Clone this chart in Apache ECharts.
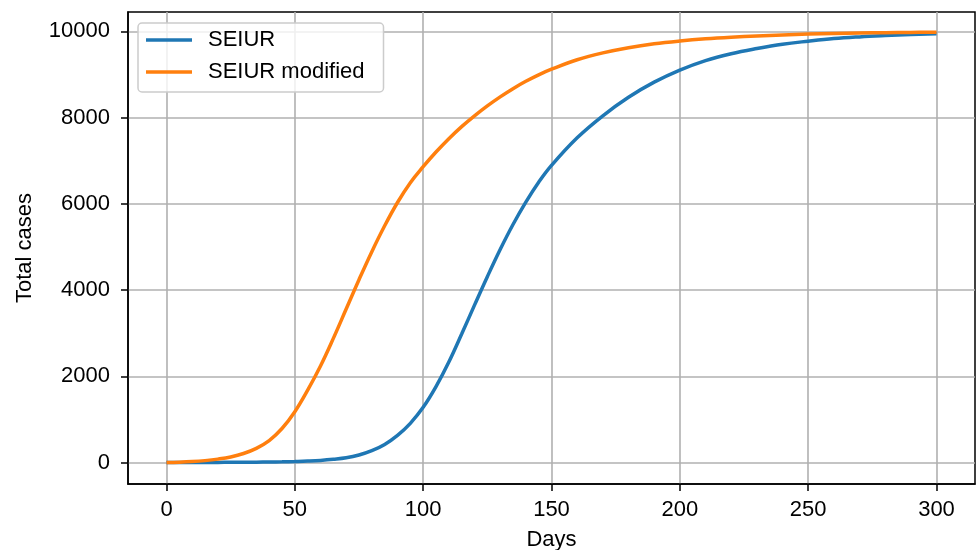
<!DOCTYPE html>
<html>
<head>
<meta charset="utf-8">
<script src="https://cdn.jsdelivr.net/npm/echarts@6/dist/echarts.min.js"></script>
<style>
  html, body { margin: 0; padding: 0; background: #fff; }
  #main { width: 977px; height: 550px; }
</style>
</head>
<body>
<div id="main"></div>
<script>
// days
var days = [0, 5, 10, 15, 20, 25, 30, 35, 40, 45, 50, 55, 60, 65, 70, 75, 80, 85, 90, 95,
  100, 105, 110, 115, 120, 125, 130, 135, 140, 145, 150,
  160, 170, 180, 190, 200, 210, 220, 230, 240, 250, 260, 270, 280, 290, 300];

// SEIUR (blue)
var seiur = [0, 1, 2, 3, 4, 5, 7, 9, 12, 17, 25, 35, 50, 75, 110, 175, 275, 420, 630, 910,
  1280, 1760, 2330, 2980, 3650, 4310, 4940, 5520, 6040, 6500, 6890,
  7530, 8040, 8470, 8820, 9100, 9320, 9480, 9600, 9700, 9770, 9830, 9870, 9900, 9925, 9945];

// SEIUR modified (orange)
var seiurModified = [0, 8, 22, 45, 80, 130, 210, 330, 510, 790, 1180, 1680, 2240, 2880, 3560, 4240, 4890, 5490, 6030, 6490,
  6860, 7200, 7510, 7790, 8040, 8270, 8480, 8670, 8840, 8990, 9120,
  9340, 9500, 9620, 9710, 9775, 9825, 9862, 9890, 9915, 9935, 9950, 9960, 9968, 9974, 9978];

var xTicks = [0, 50, 100, 150, 200, 250, 300];
var yTicks = [0, 2000, 4000, 6000, 8000, 10000];

function pairs(xs, ys) {
  var out = [];
  for (var i = 0; i < xs.length; i++) out.push([xs[i], ys[i]]);
  return out;
}

var font = '"Liberation Sans", Arial, sans-serif';
var fs = 22;
var gridColor = '#b0b0b0';

var myChart = echarts.init(document.getElementById('main'));
var option = {
  backgroundColor: '#fff',
  animation: false,
  textStyle: { fontFamily: font },
  grid: {
    left: 128, right: 2, top: 12, bottom: 66,
    show: true, borderColor: '#000', borderWidth: 1.5,
    outerBoundsMode: 'none'
  },
  legend: {
    orient: 'vertical',
    left: 138, top: 23,
    padding: [6, 19, 9, 8],
    backgroundColor: 'rgba(255,255,255,0.8)',
    borderColor: '#cccccc', borderWidth: 1.5, borderRadius: 4,
    icon: 'rect',
    itemWidth: 46, itemHeight: 3.5,
    itemGap: 10,
    textStyle: { fontFamily: font, fontSize: fs, color: '#000', lineHeight: 22, padding: [0, 0, 0, 11] },
    data: ['SEIUR', 'SEIUR modified']
  },
  xAxis: {
    type: 'value',
    min: -15, max: 315,
    name: 'Days',
    nameLocation: 'middle',
    nameGap: 45,
    nameTextStyle: { fontFamily: font, fontSize: fs, color: '#000' },
    axisLine: { show: true, onZero: false, lineStyle: { color: '#000', width: 1.5 } },
    axisTick: { show: true, customValues: xTicks, length: 7, inside: false, lineStyle: { color: '#000', width: 1.5 } },
    axisLabel: { customValues: xTicks, margin: 15, fontFamily: font, fontSize: fs, color: '#000' },
    splitLine: { show: true, lineStyle: { color: gridColor, width: 1.6 } }
  },
  yAxis: {
    type: 'value',
    min: -497, max: 10447,
    name: 'Total cases',
    nameLocation: 'middle',
    nameGap: 92,
    nameTextStyle: { fontFamily: font, fontSize: fs, color: '#000' },
    axisLine: { show: true, onZero: false, lineStyle: { color: '#000', width: 1.5 } },
    axisTick: { show: true, customValues: yTicks, length: 7, inside: false, lineStyle: { color: '#000', width: 1.5 } },
    axisLabel: {
      customValues: yTicks, margin: 18, fontFamily: font, fontSize: fs, color: '#000',
      formatter: function (v) { return String(v); }
    },
    splitLine: { show: true, lineStyle: { color: gridColor, width: 1.6 } }
  },
  series: [
    {
      name: 'SEIUR',
      type: 'line',
      data: pairs(days, seiur),
      showSymbol: false,
      smooth: 0.4,
      color: '#1f77b4',
      lineStyle: { color: '#1f77b4', width: 3.5 },
      z: 3
    },
    {
      name: 'SEIUR modified',
      type: 'line',
      data: pairs(days, seiurModified),
      showSymbol: false,
      smooth: 0.4,
      color: '#ff7f0e',
      lineStyle: { color: '#ff7f0e', width: 3.5 },
      z: 4
    }
  ]
};
myChart.setOption(option);
</script>
</body>
</html>
